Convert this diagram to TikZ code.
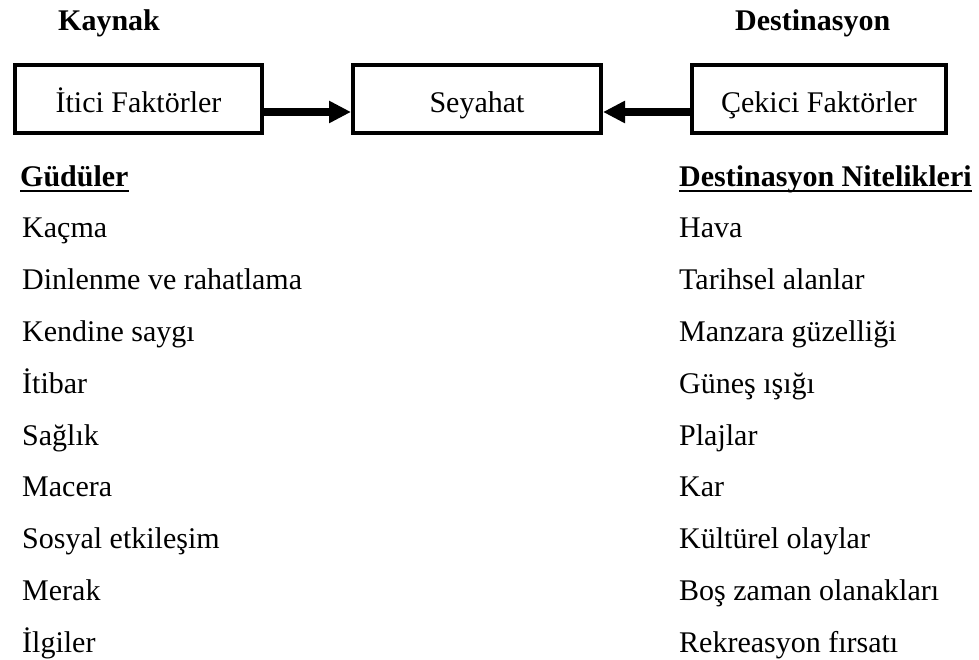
\documentclass[tikz,border=0pt]{standalone}
\usepackage{fontspec}
\setmainfont{Liberation Serif}
\usetikzlibrary{arrows.meta}
\begin{document}
\begin{tikzpicture}[x=1pt,y=-1pt,
  txt/.style={anchor=base west,inner sep=0pt,font=\fontsize{30}{36}\selectfont},
  head/.style={txt,font=\fontsize{30}{36}\selectfont\bfseries},
  box/.style={draw,line width=4pt,minimum height=68pt,inner sep=0pt,
    text height=28pt,text depth=0pt,font=\fontsize{30}{36}\selectfont},
  arr/.style={line width=8pt,-{Triangle[length=22pt,width=21pt]}},
  uline/.style={line width=2.5pt}]
\useasboundingbox (0,0) rectangle (979,660);
% headers
\node[head] (kaynak) at (58,31) {Kaynak};
\node[head] (dest) at (735,31) {Destinasyon};
% boxes
\node[box,minimum width=247pt] (b1) at (138.5,99) {İtici Faktörler};
\node[box,minimum width=248pt] (b2) at (477,99) {Seyahat};
\node[box,minimum width=254pt] (b3) at (819,99) {Çekici Faktörler};
\draw[arr] ([yshift=-13pt]b1.east) -- ([yshift=-13pt]b2.west);
\draw[arr] ([yshift=-13pt]b3.west) -- ([yshift=-13pt]b2.east);
% column headings
\node[head] (gud) at (20,187) {Güdüler};
\node[head] (nit) at (679,187) {Destinasyon Nitelikleri};
\draw[uline] ([yshift=-4pt]gud.base west) -- ([yshift=-4pt]gud.base east);
\draw[uline] ([yshift=-4pt]nit.base west) -- ([yshift=-4pt]nit.base east);
% left list
\node[txt] (l1) at (22,237) {Kaçma};
\node[txt] (l2) at (22,289) {Dinlenme ve rahatlama};
\node[txt] (l3) at (22,341) {Kendine saygı};
\node[txt] (l4) at (22,393) {İtibar};
\node[txt] (l5) at (22,445) {Sağlık};
\node[txt] (l6) at (22,496) {Macera};
\node[txt] (l7) at (22,548) {Sosyal etkileşim};
\node[txt] (l8) at (22,600) {Merak};
\node[txt] (l9) at (22,652) {İlgiler};
% right list
\node[txt] (r1) at (679,237) {Hava};
\node[txt] (r2) at (679,289) {Tarihsel alanlar};
\node[txt] (r3) at (679,341) {Manzara güzelliği};
\node[txt] (r4) at (679,393) {Güneş ışığı};
\node[txt] (r5) at (679,445) {Plajlar};
\node[txt] (r6) at (679,496) {Kar};
\node[txt] (r7) at (679,548) {Kültürel olaylar};
\node[txt] (r8) at (679,600) {Boş zaman olanakları};
\node[txt] (r9) at (679,652) {Rekreasyon fırsatı};
\end{tikzpicture}
\end{document}
